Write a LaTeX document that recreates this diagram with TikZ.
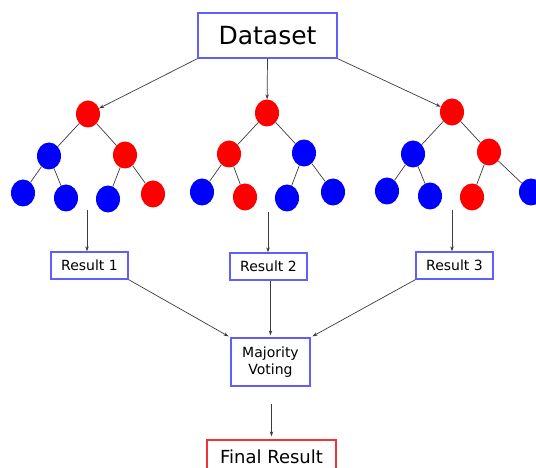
\documentclass[tikz,border=0pt]{standalone}
\usepackage{fontspec}
\setmainfont{DejaVu Sans}
\usetikzlibrary{shapes.geometric,arrows.meta}
\definecolor{boxblue}{RGB}{95,95,250}
\definecolor{boxred}{RGB}{240,50,50}
\definecolor{linegray}{RGB}{60,60,60}
\tikzset{
  leafred/.style={ellipse,fill=red,draw=none,minimum width=24pt,minimum height=27pt,inner sep=0pt},
  leafblue/.style={ellipse,fill=blue,draw=none,minimum width=24pt,minimum height=27pt,inner sep=0pt},
  edge/.style={draw=linegray,line width=0.7pt},
  arr/.style={draw=linegray,line width=0.7pt,-{Stealth[length=5pt,width=3.5pt]}},
  bluebox/.style={draw=boxblue,line width=1.3pt,fill=white,inner sep=0pt,align=center,text=black},
  redbox/.style={draw=boxred,line width=1.3pt,fill=white,inner sep=0pt,align=center,text=black}
}
\begin{document}
\begin{tikzpicture}[x=1pt,y=-1pt]
\clip (0,0) rectangle (536,468);
\fill[white] (0,0) rectangle (536,468);

% source box
\node[bluebox,minimum width=139pt,minimum height=45pt,font=\fontsize{25}{30}\selectfont] (ds) at (267.5,35.5) {Dataset};

% tree 1
\node[leafred]  (a0)  at (88,114) {};
\node[leafblue] (a1)  at (49,156) {};
\node[leafred]  (a2)  at (125,155) {};
\node[leafblue] (a3)  at (23,193) {};
\node[leafblue] (a4)  at (66,198) {};
\node[leafblue] (a5)  at (108,199) {};
\node[leafred]  (a6)  at (153,194) {};
\draw[edge] (a0)--(a1) (a0)--(a2) (a1)--(a3) (a1)--(a4) (a2)--(a5) (a2)--(a6);

% tree 2
\node[leafred]  (b0)  at (267,113) {};
\node[leafred]  (b1)  at (229,154) {};
\node[leafblue] (b2)  at (304,153) {};
\node[leafblue] (b3)  at (202,192) {};
\node[leafred]  (b4)  at (245,197) {};
\node[leafblue] (b5)  at (287,198) {};
\node[leafblue] (b6)  at (333,192) {};
\draw[edge] (b0)--(b1) (b0)--(b2) (b1)--(b3) (b1)--(b4) (b2)--(b5) (b2)--(b6);

% tree 3
\node[leafred]  (c0)  at (452,112) {};
\node[leafblue] (c1)  at (413,154) {};
\node[leafred]  (c2)  at (489,152) {};
\node[leafblue] (c3)  at (387,191) {};
\node[leafblue] (c4)  at (430,196) {};
\node[leafred]  (c5)  at (472,197) {};
\node[leafblue] (c6)  at (531,192) {};
\draw[edge] (c0)--(c1) (c0)--(c2) (c1)--(c3) (c1)--(c4) (c2)--(c5) (c2)--(c6);

% dataset to tree roots
\draw[arr] (ds.south west) -- (a0);
\draw[arr] (ds.south) -- (b0);
\draw[arr] (ds.south east) -- (c0);

% results
\node[bluebox,minimum width=77pt,minimum height=27pt,font=\fontsize{14}{17}\selectfont] (r1) at (89.5,265.5) {Result 1};
\node[bluebox,minimum width=77pt,minimum height=27pt,font=\fontsize{14}{17}\selectfont] (r2) at (268.5,266.5) {Result 2};
\node[bluebox,minimum width=77pt,minimum height=27pt,font=\fontsize{14}{17}\selectfont] (r3) at (454.5,265.5) {Result 3};

\coordinate (t1) at (87,210);
\coordinate (t2) at (268,212);
\coordinate (t3) at (452,210);
\draw[arr] (t1) -- (t1 |- r1.north);
\draw[arr] (t2) -- (t2 |- r2.north);
\draw[arr] (t3) -- (t3 |- r3.north);

% voting
\node[bluebox,minimum width=79pt,minimum height=48pt,font=\fontsize{14}{17}\selectfont] (mv) at (270.5,362) {Majority\\Voting};
\draw[arr,shorten >=2pt] (r1.south east) -- (mv.north west);
\draw[arr,line width=0.9pt,shorten >=2pt] (mv.north |- r2.south) -- (mv.north);
\draw[arr,shorten >=2pt] (r3.south west) -- (mv.north east);

% final
\node[redbox,minimum width=129pt,minimum height=34pt,font=\fontsize{18}{21}\selectfont] (fr) at (271.5,457) {Final Result};
\draw[arr,shorten <=17pt,shorten >=3pt] (mv.south -| fr.north) -- (fr.north);
\end{tikzpicture}
\end{document}
